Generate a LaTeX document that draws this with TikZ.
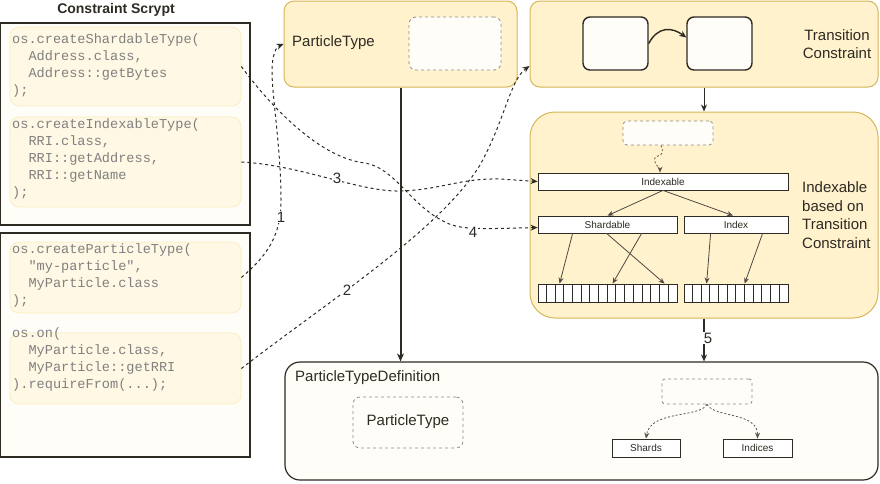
\documentclass[tikz,border=0pt]{standalone}
\usepackage{fontspec}
\setmainfont{Liberation Sans}
\setmonofont{Liberation Mono}
\usetikzlibrary{arrows.meta,fit,calc}
\definecolor{yfill}{HTML}{FFF2CC}
\definecolor{yline}{HTML}{D6B656}
\definecolor{cream}{HTML}{FFFDF7}
\definecolor{codefill}{HTML}{FFF8E4}
\definecolor{codeline}{HTML}{FBEBC0}
\definecolor{dark}{HTML}{2E2A24}
\definecolor{codegray}{HTML}{808080}
\definecolor{dashgray}{HTML}{8C8C8C}
\begin{document}
\begin{tikzpicture}[x=1pt,y=-1pt,
  ybox/.style={fill=yfill,draw=yline,line width=1pt,rounded corners=10pt,inner sep=0pt},
  panel/.style={fill=cream,draw=dark,line width=1.2pt,inner sep=0pt},
  codebox/.style={fill=codefill,draw=codeline,line width=0.7pt,rounded corners=9pt,inner sep=0pt},
  code/.style={font=\ttfamily\fontsize{13.6}{17}\selectfont,text=codegray,align=left,anchor=base west,inner sep=0pt},
  dbox/.style={fill=cream,draw=dashgray,dashed,line width=0.8pt,rounded corners=7pt,inner sep=0pt},
  sbox/.style={fill=cream,draw=dark,line width=1.4pt,rounded corners=7pt,inner sep=0pt},
  rbox/.style={fill=white,draw=dark,line width=0.8pt,inner sep=0pt},
  small/.style={font=\fontsize{10}{12}\selectfont,text=dark,inner sep=0pt},
  stext/.style={font=\fontsize{15}{18.5}\selectfont,text=dark,inner sep=0pt},
  conn/.style={draw=dark,line width=1pt,dash pattern=on 3pt off 3pt,-{Stealth[length=7pt,width=6pt]}},
  sarr/.style={draw=dark,line width=1pt,-{Stealth[length=7pt,width=6pt]}},
  tarr/.style={draw=dark,line width=2pt,-{Stealth[length=8pt,width=7pt]}},
  garr/.style={draw=dark!85,line width=0.8pt,-{Stealth[length=6pt,width=5pt]}},
  gdash/.style={draw=dark,line width=0.8pt,dash pattern=on 2pt off 2pt,-{Stealth[length=6pt,width=5pt]}},
  lbl/.style={fill=white,font=\fontsize{15}{15}\selectfont,text=dark,inner sep=1pt},
  cellline/.style={draw=dark,line width=0.6pt},
]
\useasboundingbox (0,0) rectangle (880,483);

% ---------- left: constraint scrypt ----------
\node[font=\bfseries\fontsize{14}{14}\selectfont,text=dark] (title) at (116,10) {Constraint Scrypt};
\node[panel,fit={(0,23) (250,225)}] (p1) {};
\node[codebox,fit={(10,27) (241,106)}] (cb1) {};
\node[codebox,fit={(10,117) (241,207)}] (cb2) {};
\node[panel,fit={(0,233) (250,457)}] (p2) {};
\node[codebox,fit={(10,242) (241,313)}] (cb3) {};
\node[codebox,fit={(10,333) (241,404)}] (cb4) {};

\node[code] (c1) at (12,94) {os.createShardableType(\\\phantom{xx}Address.class,\\\phantom{xx}Address::getBytes\\);};
\node[code] (c2) at (12,196) {os.createIndexableType(\\\phantom{xx}RRI.class,\\\phantom{xx}RRI::getAddress,\\\phantom{xx}RRI::getName\\);};
\node[code] (c3) at (12,304) {os.createParticleType(\\\phantom{xx}"my-particle",\\\phantom{xx}MyParticle.class\\);};
\node[code] (c4) at (12,388) {os.on(\\\phantom{xx}MyParticle.class,\\\phantom{xx}MyParticle::getRRI\\).requireFrom(...);};

% ---------- ParticleType ----------
\node[ybox,fit={(284,1) (517,87)}] (pt) {};
\node[stext,anchor=west] (ptl) at (292,43) {ParticleType};
\node[dbox,fit={(409,17) (501,70)}] (ptin) {};

% ---------- Transition constraint ----------
\node[ybox,fit={(530,1) (878,87)}] (tc) {};
\node[sbox,fit={(583,17) (648,70)}] (tc1) {};
\node[sbox,fit={(687,17) (752,70)}] (tc2) {};
\draw[sarr,line width=1.4pt] (tc1.east) .. controls (658,26) and (672,27) .. ([yshift=6pt]tc2.west);
\node[stext,align=center] (tcl) at (837,44) {Transition\\Constraint};

% ---------- Indexable container ----------
\node[ybox,rounded corners=25pt,fit={(530,112) (878,318)}] (ix) {};
\draw[sarr] (tc) -- (ix);
\node[dbox,rounded corners=4pt,fit={(623,121) (713,145)}] (ixd) {};
\node[rbox,fit={(538,173) (788,190)}] (idx) {};
\node[small] (idxt) at (idx) {Indexable};
\node[rbox,fit={(538,216) (677,233)}] (sh) {};
\node[small] (sht) at (sh) {Shardable};
\node[rbox,fit={(684,216) (788,233)}] (ind) {};
\node[small] (indt) at (ind) {Index};
\node[rbox,fit={(538,284) (677,302)}] (arrL) {};
\node[rbox,fit={(684,284) (788,302)}] (arrR) {};
\foreach \i in {1,...,15}
  \draw[cellline] ($(arrL.north west)+(\i*8.6875,0)$) -- ($(arrL.south west)+(\i*8.6875,0)$);
\foreach \i in {1,...,11}
  \draw[cellline] ($(arrR.north west)+(\i*8.6667,0)$) -- ($(arrR.south west)+(\i*8.6667,0)$);
\draw[gdash,draw=dark!80] ([xshift=-7pt]ixd.south) .. controls (667,160) and (652,152) .. (655,162) .. controls (657,167) and (660,168) .. ([xshift=-3pt]idx.north);
\draw[garr] (idx.south) -- (sh.north);
\draw[garr] (idx.south) -- ([xshift=-3pt]ind.north);
\draw[garr] ($(sh.south west)+(35,0)$) -- ($(arrL.north west)+(22,0)$);
\draw[garr] ($(sh.south west)+(104,0)$) -- ($(arrL.north west)+(75,0)$);
\draw[garr] ($(sh.south west)+(69,0)$) -- ($(arrL.north west)+(127,0)$);
\draw[garr] ($(ind.south west)+(27,0)$) -- ($(arrR.north west)+(23,0)$);
\draw[garr] ($(ind.south west)+(79,0)$) -- ($(arrR.north west)+(61,0)$);
\node[stext,align=left,anchor=west] (ixl) at (802,215) {Indexable\\based on\\Transition\\Constraint};

% ---------- ParticleTypeDefinition ----------
\node[panel,rounded corners=15pt,fit={(285,362) (878,480)}] (ptd) {};
\node[stext,anchor=west] (ptdl) at (295,378) {ParticleTypeDefinition};
\node[dbox,fit={(353,397) (463,448)}] (ptd1) {};
\node[stext] (ptd1l) at (408,422) {ParticleType};
\node[dbox,rounded corners=3pt,fit={(662,379) (752,404)}] (pdb) {};
\node[rbox,fit={(612,439) (680,457)}] (shards) {};
\node[small] (shardst) at (shards) {Shards};
\node[rbox,fit={(723,439) (792,457)}] (indices) {};
\node[small] (indicest) at (indices) {Indices};
\draw[gdash,draw=dark!80] (pdb.south) .. controls (700,418) and (650,410) .. (shards.north);
\draw[gdash,draw=dark!80] (pdb.south) .. controls (715,418) and (758,412) .. (indices.north);

\draw[tarr] (pt.south) -- (pt.south |- ptd.north);
\draw[sarr,line width=1.4pt] (ix.south) -- (ix.south |- ptd.north);
\node[lbl] (l5) at (708,338) {5};

% ---------- dashed connectors ----------
\draw[conn] (cb3.east) .. controls (268,255) and (281,235) .. (281,200) .. controls (281,150) and (272,95) .. (272,72) .. controls (272,55) and (276,47) .. (pt.west);
\draw[conn] (cb4.east) .. controls (330,300) and (440,230) .. (480,165) .. controls (505,120) and (510,80) .. ([yshift=-22pt]tc.west);
\draw[conn] (cb2.east) .. controls (300,165) and (360,192) .. (400,191) .. controls (440,190) and (460,178) .. (500,179) -- (idx.west);
\draw[conn] (cb1.east) .. controls (271,107) and (320,158) .. (365,163) .. controls (395,168) and (410,205) .. (445,222) .. controls (460,230) and (480,229) .. ([yshift=-3pt]sh.west);
\node[lbl] (l1) at (281,217) {1};
\node[lbl] (l2) at (347,290) {2};
\node[lbl] (l3) at (337,178) {3};
\node[lbl] (l4) at (473,232) {4};
\end{tikzpicture}
\end{document}
